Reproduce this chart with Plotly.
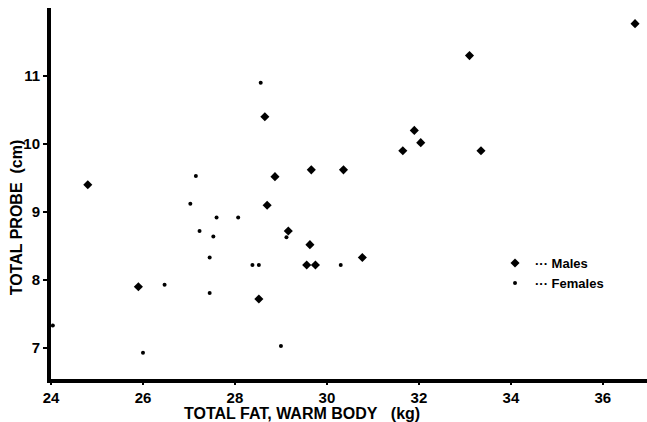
import plotly.graph_objects as go

# Total fat (kg) vs total probe depth (cm)
male_fat = [24.8, 25.9, 28.65, 28.87, 29.66, 30.36, 28.7, 31.65, 31.9, 32.04,
            33.1, 33.35, 36.7, 29.16, 29.63, 29.56, 29.75, 30.77, 28.52]
male_probe = [9.4, 7.9, 10.4, 9.52, 9.62, 9.62, 9.1, 9.9, 10.2, 10.02,
              11.3, 9.9, 11.77, 8.72, 8.52, 8.22, 8.22, 8.33, 7.72]

female_fat = [27.15, 27.03, 27.6, 28.07, 27.23, 27.53, 27.45, 26.47, 27.45,
              24.04, 26.0, 28.56, 28.38, 28.52, 29.12, 30.3, 29.0]
female_probe = [9.53, 9.12, 8.92, 8.92, 8.72, 8.64, 8.33, 7.93, 7.81,
                7.33, 6.93, 10.9, 8.22, 8.22, 8.63, 8.22, 7.03]

x_ticks = [24, 26, 28, 30, 32, 34, 36]
y_ticks = [7, 8, 9, 10, 11]

FONT = "Liberation Sans, Arial, sans-serif"
NB = "\u00a0"

fig = go.Figure()
fig.add_trace(go.Scatter(
    x=male_fat, y=male_probe, mode="markers", name="<b>··· Males</b>",
    marker=dict(symbol="diamond", size=7, color="black"),
))
fig.add_trace(go.Scatter(
    x=female_fat, y=female_probe, mode="markers", name="<b>··· Females</b>",
    marker=dict(symbol="circle", size=4, color="black"),
))

fig.update_layout(
    width=647, height=422,
    margin=dict(l=51, r=0, t=8, b=43),
    paper_bgcolor="white", plot_bgcolor="white",
    font=dict(family=FONT, color="black", size=15),
    showlegend=True,
    legend=dict(
        x=0.745, y=0.353, xanchor="left", yanchor="top",
        bgcolor="rgba(0,0,0,0)", font=dict(size=13, family=FONT),
        itemwidth=30, tracegroupgap=0,
    ),
    xaxis=dict(
        range=[24, 36.96], tickvals=x_ticks,
        ticktext=[f"<b>{v}</b>" for v in x_ticks],
        showgrid=False, zeroline=False,
        showline=True, linecolor="black", linewidth=4,
        ticks="outside", ticklen=2, tickwidth=2, tickcolor="black",
        tickfont=dict(size=15),
    ),
    yaxis=dict(
        range=[6.544, 12.0], tickvals=y_ticks,
        ticktext=[f"<b>{v}</b>" for v in y_ticks],
        showgrid=False, zeroline=False,
        showline=True, linecolor="black", linewidth=4,
        ticks="outside", ticklen=4, tickwidth=2, tickcolor="black",
        tickfont=dict(size=15),
    ),
    annotations=[
        dict(text=f"<b>TOTAL FAT, WARM BODY{NB * 3}(kg)</b>",
             xref="paper", yref="paper", x=0.421, y=-0.094,
             xanchor="center", yanchor="middle", showarrow=False,
             font=dict(size=16)),
        dict(text=f"<b>TOTAL PROBE{NB * 2}(cm)</b>",
             xref="paper", yref="paper", x=-0.058, y=0.437,
             xanchor="center", yanchor="middle", showarrow=False,
             textangle=-90, font=dict(size=16)),
    ],
)

fig.write_html("out.html")
